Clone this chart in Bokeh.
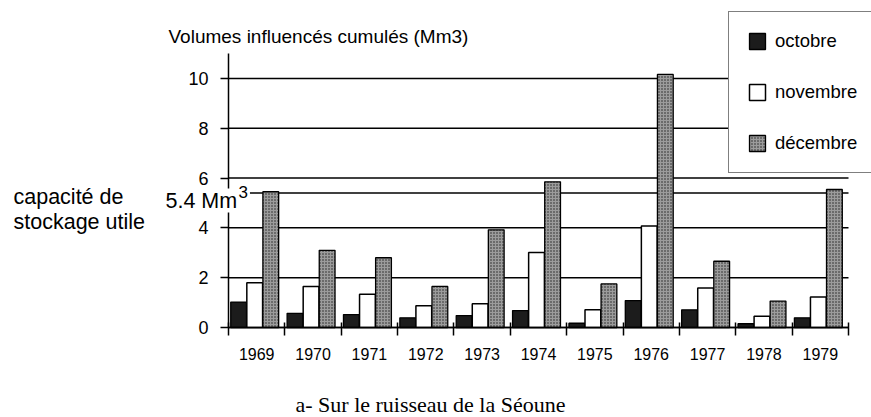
from bokeh.plotting import figure
from bokeh.models import (ColumnDataSource, Range1d, FixedTicker, Label,
                          Legend, LegendItem)
from bokeh.transform import dodge
from bokeh.embed import file_html
from bokeh.resources import INLINE

# ---- data ----
years = [1969, 1970, 1971, 1972, 1973, 1974, 1975, 1976, 1977, 1978, 1979]
year_labels = ["1969", "1970", "1971", "1972", "1973", "1974", "1975", "1976", "1977", "1978", "1979"]
octobre = [1.02, 0.57, 0.52, 0.39, 0.48, 0.68, 0.17, 1.08, 0.71, 0.15, 0.39]
novembre = [1.80, 1.65, 1.33, 0.87, 0.95, 3.01, 0.71, 4.07, 1.59, 0.45, 1.22]
decembre = [5.45, 3.10, 2.80, 1.65, 3.92, 5.85, 1.75, 10.16, 2.66, 1.06, 5.54]
series_names = ["octobre", "novembre", "décembre"]
capacite = 5.4
y_ticks = [0, 2, 4, 6, 8, 10]
y_max = 11

title_text = "Volumes influencés cumulés (Mm3)"
side_text = ["capacité de", "stockage utile"]
caption_text = "a- Sur le ruisseau de la Séoune"

SANS = "Liberation Sans"
SERIF = "Liberation Serif"

W, H = 871, 417
X0_PX, X1_PX, Y0_PX = 228, 848, 327   # axis positions on the canvas
PX_PER_YEAR = (X1_PX - X0_PX) / len(years)
PX_PER_UNIT = 24.91

def px_to_x(px):
    return years[0] - 0.5 + (px - X0_PX) / PX_PER_YEAR

def py_to_y(py):
    return (Y0_PX - py) / PX_PER_UNIT

x_lo, x_hi = years[0] - 0.5, years[-1] + 0.5

src = ColumnDataSource(dict(x=years, octobre=octobre, novembre=novembre, decembre=decembre))

p = figure(width=W, height=H, output_backend="svg", toolbar_location=None,
           x_range=Range1d(px_to_x(0), px_to_x(W)), y_range=Range1d(py_to_y(H), py_to_y(0)),
           min_border=0, min_border_left=0, min_border_right=0,
           min_border_top=0, min_border_bottom=0)
p.outline_line_color = None
p.background_fill_color = "white"
p.border_fill_color = "white"
p.xgrid.visible = False
p.ygrid.visible = False

# horizontal grid lines, limited to the axis extent
grid_src = ColumnDataSource(dict(y=y_ticks + [capacite]))
p.segment(x0=x_lo, x1=x_hi, y0="y", y1="y", source=grid_src,
          line_color="black", line_width=1.5, level="underlay")

bw = 0.28
r_oct = p.vbar(x=dodge("x", -0.32, range=p.x_range), top="octobre", width=bw, source=src,
               fill_color="#1c1c1c", line_color="black", line_width=1.3)
r_nov = p.vbar(x=dodge("x", -0.035, range=p.x_range), top="novembre", width=bw, source=src,
               fill_color="white", line_color="black", line_width=1.5)
r_dec = p.vbar(x=dodge("x", 0.25, range=p.x_range), top="decembre", width=bw, source=src,
               fill_color="#9c9c9c", line_color="black", line_width=1.3,
               hatch_pattern="dot", hatch_color="#202020", hatch_scale=3, hatch_weight=1.1)

# axes placed at fixed locations inside the frame
xa = p.xaxis[0]
xa.fixed_location = 0
xa.bounds = (x_lo, x_hi)
xa.ticker = FixedTicker(ticks=years, minor_ticks=[y - 0.5 for y in years] + [x_hi])
xa.major_label_overrides = {y: l for y, l in zip(years, year_labels)}
xa.major_tick_in = 0
xa.major_tick_out = 0
xa.minor_tick_in = 5
xa.minor_tick_out = 8
xa.minor_tick_line_color = "black"
xa.minor_tick_line_width = 1.5
xa.axis_line_color = "black"
xa.axis_line_width = 1.5
xa.major_label_text_font = SANS
xa.major_label_text_font_size = "16px"
xa.major_label_text_color = "black"
xa.major_label_standoff = 12

ya = p.yaxis[0]
ya.fixed_location = x_lo
ya.bounds = (0, y_max)
ya.ticker = FixedTicker(ticks=y_ticks)
ya.major_tick_in = 0
ya.major_tick_out = 8
ya.minor_tick_line_color = None
ya.major_tick_line_color = "black"
ya.major_tick_line_width = 1.5
ya.axis_line_color = "black"
ya.axis_line_width = 1.5
ya.major_label_text_font = SANS
ya.major_label_text_font_size = "18px"
ya.major_label_text_color = "black"
ya.major_label_standoff = 12

# legend
legend = Legend(items=[LegendItem(label=series_names[0], renderers=[r_oct]),
                       LegendItem(label=series_names[1], renderers=[r_nov]),
                       LegendItem(label=series_names[2], renderers=[r_dec])],
                location=(728, H - 173), orientation="vertical",
                glyph_width=20, glyph_height=20, label_height=20, label_width=125,
                spacing=29, padding=18, margin=0, label_standoff=8,
                border_line_color="black", border_line_width=1.5,
                background_fill_color="white", background_fill_alpha=1.0,
                label_text_font=SANS, label_text_font_size="18.5px", label_text_color="black")
p.add_layout(legend)

p.add_layout(Label(x=px_to_x(168), y=py_to_y(36), text=title_text, text_font=SANS,
                   text_font_size="19px", text_color="black", text_baseline="alphabetic"))
p.add_layout(Label(x=px_to_x(13), y=py_to_y(196), text=side_text[0], text_font=SANS,
                   text_font_size="21.5px", text_color="black", text_baseline="alphabetic"))
p.add_layout(Label(x=px_to_x(13), y=py_to_y(221), text=side_text[1], text_font=SANS,
                   text_font_size="21.5px", text_color="black", text_baseline="alphabetic"))
p.add_layout(Label(x=px_to_x(165), y=py_to_y(200), text=f"{capacite} Mm", text_font=SANS,
                   text_font_size="21.5px", text_color="black", text_baseline="alphabetic",
                   background_fill_color="white", background_fill_alpha=1.0))
p.add_layout(Label(x=px_to_x(236), y=py_to_y(191), text="3", text_font=SANS,
                   text_font_size="17px", text_color="black", text_baseline="alphabetic",
                   background_fill_color="white", background_fill_alpha=1.0,
                   padding=2))
p.add_layout(Label(x=px_to_x(430), y=py_to_y(404), text=caption_text, text_font=SERIF,
                   text_font_size="22px", text_color="black", text_baseline="alphabetic",
                   text_align="center"))

open("out.html", "w").write(file_html(p, INLINE))
